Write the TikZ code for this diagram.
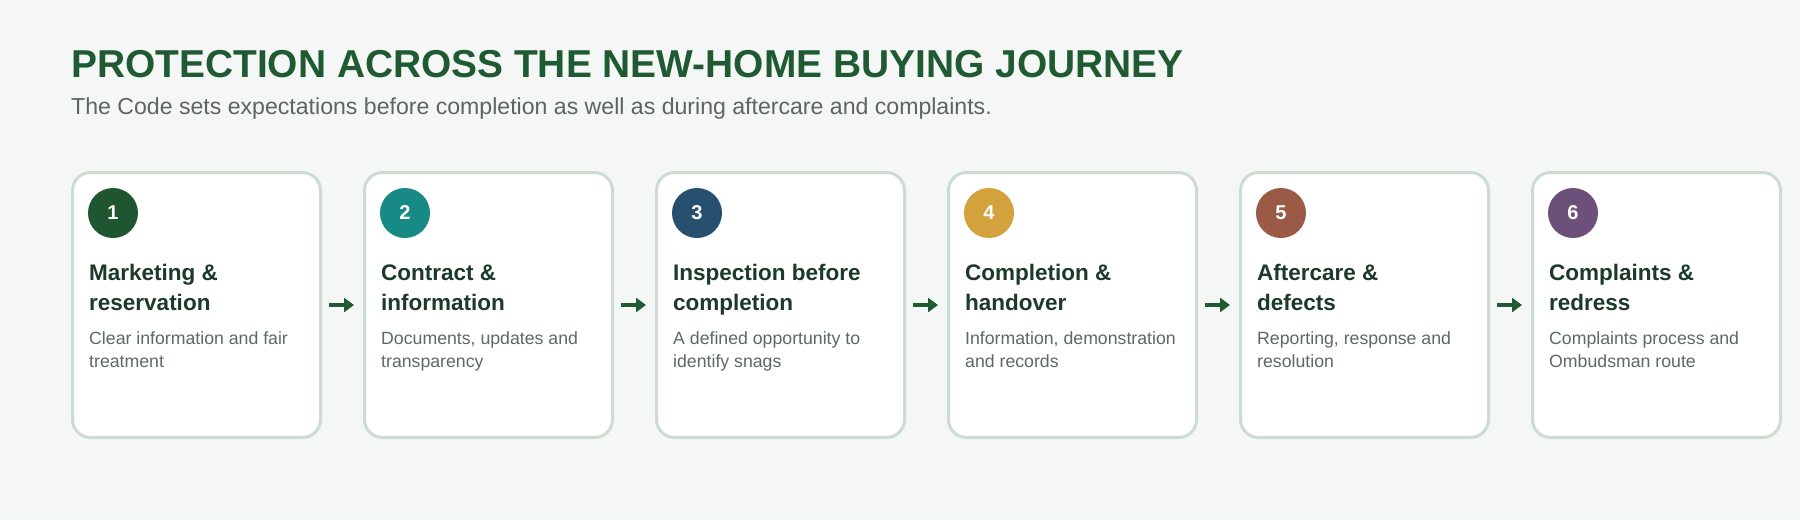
\documentclass[tikz,border=0pt]{standalone}
\usepackage{fontspec}
\setmainfont{Liberation Sans}
\usetikzlibrary{arrows.meta}

\definecolor{pagebg}{HTML}{F4F7F5}
\definecolor{headgreen}{HTML}{1F5A32}
\definecolor{subgrey}{HTML}{5C6660}
\definecolor{cardline}{HTML}{CCDCD2}
\definecolor{titleink}{HTML}{1B3A29}
\definecolor{noteink}{HTML}{5E6963}
\definecolor{stepone}{HTML}{1F5631}
\definecolor{steptwo}{HTML}{178A85}
\definecolor{stepthree}{HTML}{27506E}
\definecolor{stepfour}{HTML}{D3A23C}
\definecolor{stepfive}{HTML}{9B5A45}
\definecolor{stepsix}{HTML}{6C5079}

\tikzset{
  card/.style={draw=cardline, line width=3pt, fill=white, rounded corners=18pt,
    minimum width=248pt, minimum height=265pt, inner sep=0pt},
  badge/.style={circle, minimum size=50pt, inner sep=0pt, text=white,
    font=\fontsize{20}{20}\selectfont\bfseries},
  cardtitle/.style={anchor=base west, inner sep=0pt, align=left, text=titleink,
    font=\fontsize{22.5}{30}\selectfont\bfseries},
  cardnote/.style={anchor=base west, inner sep=0pt, align=left, text=noteink,
    font=\fontsize{17.7}{22.5}\selectfont},
  flow/.style={-{Triangle[length=10pt,width=14pt]}, line width=4pt, draw=headgreen,
    shorten <=7pt, shorten >=9pt}
}

\begin{document}
\begin{tikzpicture}[x=1pt, y=-1pt]
   \fill[pagebg] (0,0) rectangle (1800,520);
   \useasboundingbox (0,0) rectangle (1800,520);

   % heading
   \node[anchor=base west, inner sep=0pt, text=headgreen,
     font=\fontsize{38.9}{42}\selectfont\bfseries] (head) at (71,77.5)
     {PROTECTION ACROSS THE NEW-HOME BUYING JOURNEY};
   \node[anchor=base west, inner sep=0pt, text=subgrey,
     font=\fontsize{23.1}{26}\selectfont] (sub) at (71,114)
     {The Code sets expectations before completion as well as during aftercare and complaints.};

   % cards
   \node[card] (c1) at ( 196.5,305) {};
   \node[card] (c2) at ( 488.5,305) {};
   \node[card] (c3) at ( 780.5,305) {};
   \node[card] (c4) at (1072.5,305) {};
   \node[card] (c5) at (1364.5,305) {};
   \node[card] (c6) at (1656.5,305) {};

   % numbers
   \node[badge, fill=stepone]   (n1) at ( 113,213) {1};
   \node[badge, fill=steptwo]   (n2) at ( 405,213) {2};
   \node[badge, fill=stepthree] (n3) at ( 697,213) {3};
   \node[badge, fill=stepfour]  (n4) at ( 989,213) {4};
   \node[badge, fill=stepfive]  (n5) at (1281,213) {5};
   \node[badge, fill=stepsix]   (n6) at (1573,213) {6};

   % titles (base = last line)
   \node[cardtitle] (t1) at (  89,310) {Marketing \&\\reservation};
   \node[cardtitle] (t2) at ( 381,310) {Contract \&\\information};
   \node[cardtitle] (t3) at ( 673,310) {Inspection before\\completion};
   \node[cardtitle] (t4) at ( 965,310) {Completion \&\\handover};
   \node[cardtitle] (t5) at (1257,310) {Aftercare \&\\defects};
   \node[cardtitle] (t6) at (1549,310) {Complaints \&\\redress};

   % notes
   \node[cardnote] (d1) at (  89,367) {Clear information and fair\\treatment};
   \node[cardnote] (d2) at ( 381,367) {Documents, updates and\\transparency};
   \node[cardnote] (d3) at ( 673,367) {A defined opportunity to\\identify snags};
   \node[cardnote] (d4) at ( 965,367) {Information, demonstration\\and records};
   \node[cardnote] (d5) at (1257,367) {Reporting, response and\\resolution};
   \node[cardnote] (d6) at (1549,367) {Complaints process and\\Ombudsman route};

   % arrows
   \draw[flow] (c1.east) -- (c2.west);
   \draw[flow] (c2.east) -- (c3.west);
   \draw[flow] (c3.east) -- (c4.west);
   \draw[flow] (c4.east) -- (c5.west);
   \draw[flow] (c5.east) -- (c6.west);
\end{tikzpicture}
\end{document}
